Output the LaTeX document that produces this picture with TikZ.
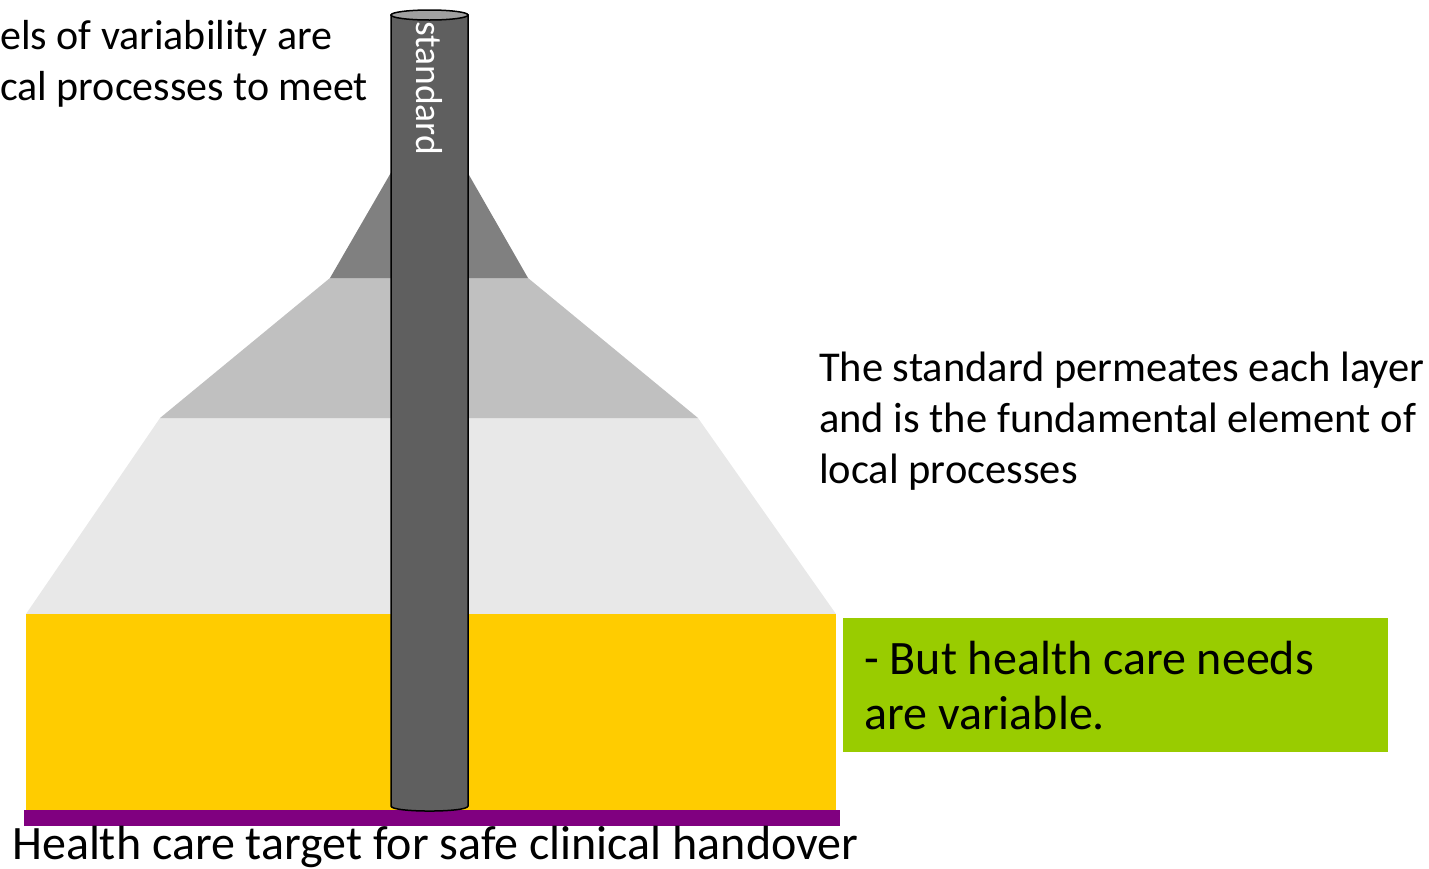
\documentclass[tikz,border=0pt]{standalone}
\usepackage{fontspec}
\setmainfont{Carlito}
\definecolor{yel}{HTML}{FFCC00}
\definecolor{pur}{HTML}{800080}
\definecolor{grn}{HTML}{99CC00}
\definecolor{lgray}{HTML}{E8E8E8}
\definecolor{mgray}{HTML}{C0C0C0}
\definecolor{dgray}{HTML}{808080}
\definecolor{cyl}{HTML}{5F5F5F}
\definecolor{cyltop}{HTML}{A0A0A0}
\tikzset{
  txt/.style={inner sep=0pt, anchor=base west, align=left, font=\fontsize{42.5}{51}\selectfont},
  big/.style={inner sep=0pt, anchor=base west, align=left, font=\fontsize{48}{55}\selectfont},
}
\begin{document}
\begin{tikzpicture}[x=1pt,y=-1pt]
\useasboundingbox (0,0) rectangle (1429,868);
% layers
\fill[lgray] (26,614) -- (160,418) -- (698,418) -- (836,614) -- cycle;
\fill[mgray] (160,418) -- (330,278) -- (528,278) -- (698,418) -- cycle;
\fill[dgray] (330,278) -- (429.5,106) -- (528,278) -- cycle;
\fill[yel] (26,614) rectangle (836,811);
\fill[pur] (24,810) rectangle (840,826);
% cylinder
\draw[line width=1.5pt, fill=cyl] (391,15) -- (391,806) .. controls (391,812.7) and (468,812.7) .. (468,806) -- (468,15) -- cycle;
\draw[line width=1.5pt, fill=cyltop] (429.5,15) ellipse [x radius=38.5, y radius=5];
\node[inner sep=0pt, anchor=west, rotate=-90, text=white, font=\fontsize{37.5}{45}\selectfont] (std) at (429,21) {standard};
% green box
\fill[grn] (843,618) rectangle (1388,752);
\node[big] (need) at (864,729) {- But health care needs\\are variable.};
% texts
\node[txt] (perm) at (819,483) {The standard permeates each layer\\and is the fundamental element of\\local processes};
\node[txt, font=\fontsize{42}{51}\selectfont] (vari) at (0,100) {els of variability are\\cal processes to meet};
\node[inner sep=0pt, anchor=base west, font=\fontsize{48}{56}\selectfont] (target) at (12,859) {Health care target for safe clinical handover};
\end{tikzpicture}
\end{document}
